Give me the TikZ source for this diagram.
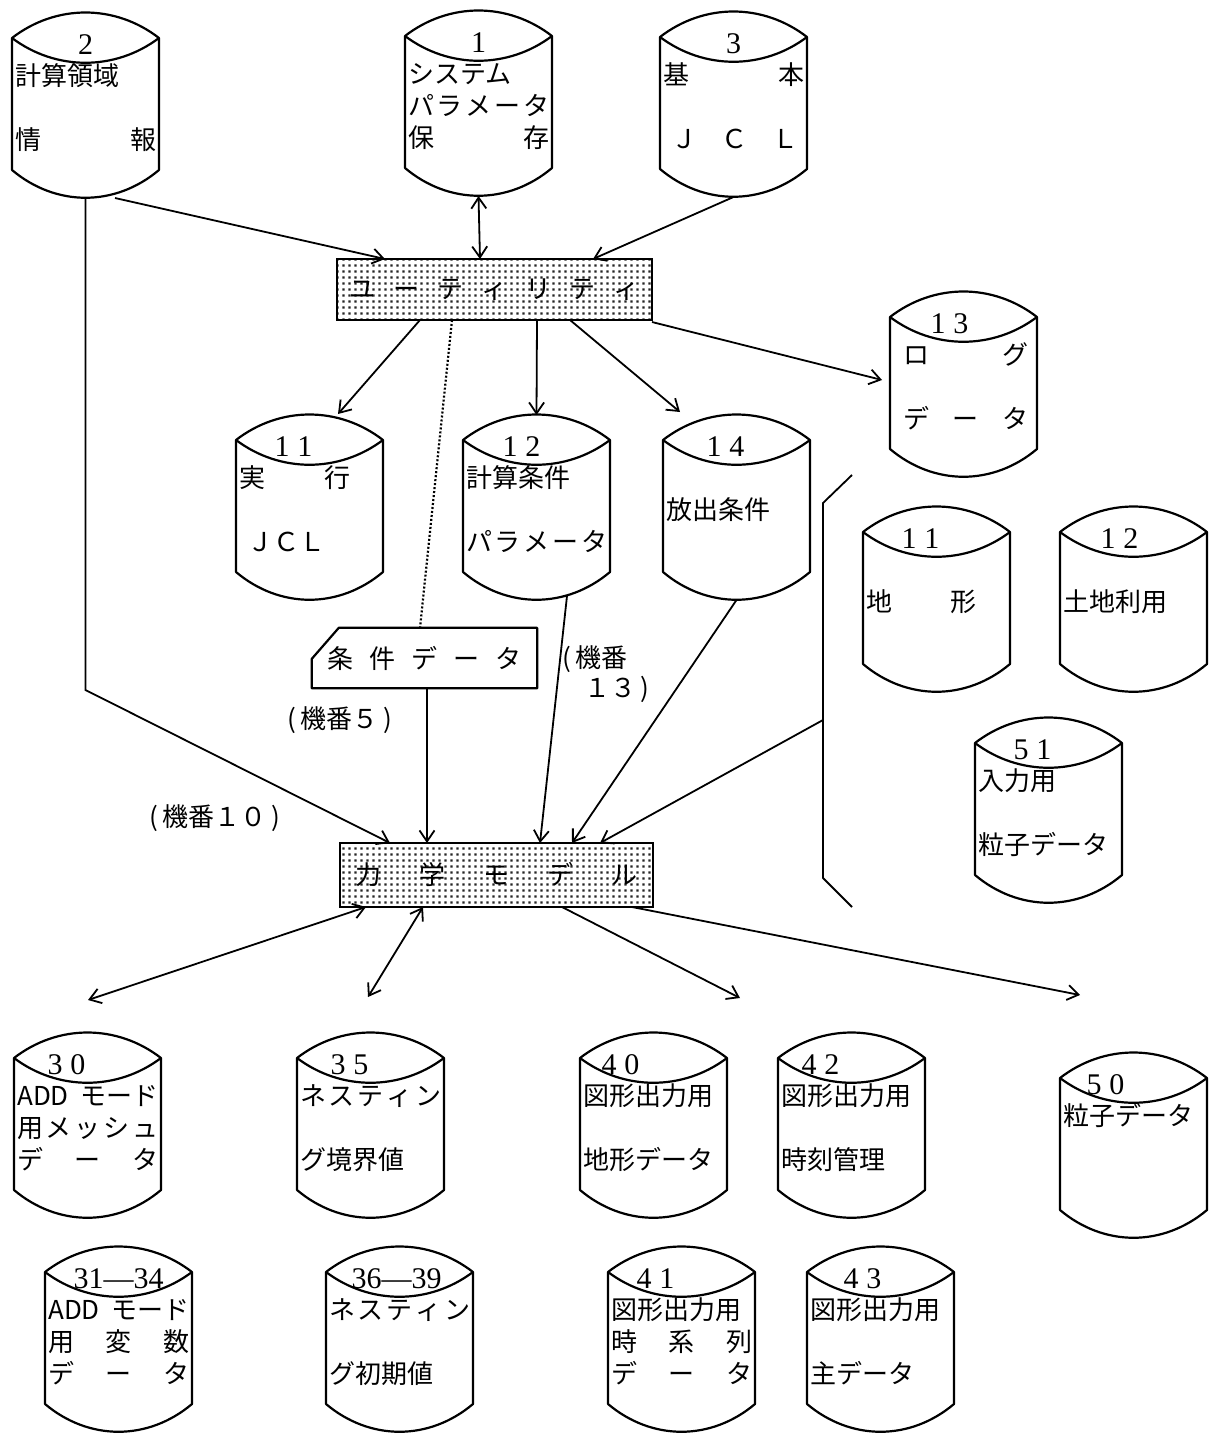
\documentclass[tikz,border=0pt]{standalone}
\usepackage{fontspec}
\setmainfont{Noto Sans CJK JP}
\newfontfamily\numfont{Liberation Serif}
\usetikzlibrary{arrows.meta,patterns.meta,calc}

\pgfdeclarepattern{
  name=halftone,
  type=uncolored,
  bottom left={\pgfpoint{0pt}{0pt}},
  top right={\pgfpoint{5.5pt}{5.5pt}},
  tile size={\pgfpoint{5.5pt}{5.5pt}},
  code={\pgfpathrectangle{\pgfpoint{1.5pt}{1.5pt}}{\pgfpoint{2.4pt}{2.4pt}}\pgfusepath{fill}}
}

\newcommand\spread[1]{\makebox[\linewidth]{#1}}
\newcommand\nn[2]{#1\hspace{8pt}#2}

% #1 name, #2 x0, #3 T, #4 number, #5 number dx, #6 body
\newcommand\drawcyl[6]{%
  \pgfmathsetmacro\cxa{#2}\pgfmathsetmacro\cxb{#2+147}%
  \pgfmathsetmacro\cxc{#2+44}\pgfmathsetmacro\cxd{#2+103}%
  \pgfmathsetmacro\cya{#3}\pgfmathsetmacro\cyt{#3-34}\pgfmathsetmacro\cylens{#3+33}%
  \pgfmathsetmacro\cys{#3+132}\pgfmathsetmacro\cyb{#3+169}%
  \draw[cylline,fill=white] (\cxa,\cya) .. controls (\cxc,\cyt) and (\cxd,\cyt) .. (\cxb,\cya) -- (\cxb,\cys) .. controls (\cxd,\cyb) and (\cxc,\cyb) .. (\cxa,\cys) -- cycle;
  \draw[cylline] (\cxa,\cya) .. controls (\cxc,\cylens) and (\cxd,\cylens) .. (\cxb,\cya);
  \node[numtxt] (#1-n) at (#2+73.5+#5,#3+7) {#4};
  \node[bodytxt] (#1) at (#2+3,#3+25) {\strut #6};
  \coordinate (#1-t) at (#2+73.5,#3-25);
  \coordinate (#1-b) at (#2+73.5,#3+160);
}

\tikzset{
  cylline/.style={line width=2.2pt, line join=round},
  numtxt/.style={inner sep=0pt, font=\numfont\fontsize{30}{30}\selectfont},
  bodytxt/.style={anchor=north west, inner sep=0pt, text width=141pt, align=left, font=\fontsize{26}{32}\selectfont},
  conn/.style={line width=1.8pt},
  arr/.style={conn, -{Straight Barb[length=11pt,width=15pt]}},
  darr/.style={conn, {Straight Barb[length=11pt,width=15pt]}-{Straight Barb[length=11pt,width=15pt]}},
  hbox/.style={draw, line width=2.2pt, pattern=halftone, pattern color=black!85, inner sep=0pt, font=\fontsize{26}{30}\selectfont},
  lbl/.style={inner sep=0pt, font=\fontsize{26}{30}\selectfont, align=left},
}

\begin{document}
\begin{tikzpicture}[x=1pt,y=-1pt]
\useasboundingbox (0,0) rectangle (1210,1433);
\fill[white] (0,0) rectangle (1210,1433);

% ---------- top cylinders ----------
\drawcyl{c2}{12}{38}{2}{0}{計算領域\\ \mbox{}\\ \spread{情\hfill 報}}
\drawcyl{c1}{405}{36}{1}{0}{システム\\ \spread{パ\hfill ラ\hfill メ\hfill ー\hfill タ}\\ \spread{保\hfill 存}}
\drawcyl{c3}{660}{37}{3}{0}{\spread{基\hfill 本}\\ \mbox{}\\ \spread{\hspace*{8pt}Ｊ\hfill Ｃ\hfill Ｌ\hspace*{6pt}}}

% ---------- boxes ----------
\node[hbox, minimum width=315pt, minimum height=61pt] (util) at (494.5,289.5)
  {ユ\hspace{18pt}ー\hspace{18pt}テ\hspace{18pt}ィ\hspace{18pt}リ\hspace{18pt}テ\hspace{18pt}ィ};
\node[hbox, minimum width=313pt, minimum height=64pt] (dyn) at (496.5,875)
  {力\hspace{38pt}学\hspace{38pt}モ\hspace{38pt}デ\hspace{38pt}ル};
\node[inner sep=0pt, minimum width=225pt, minimum height=60pt, font=\fontsize{26}{30}\selectfont] (cond) at (424.5,658)
  {条\hspace{16pt}件\hspace{16pt}デ\hspace{16pt}ー\hspace{16pt}タ};
\draw[line width=2.2pt, line join=round] (cond.south west) -- ($(cond.north west)+(0,31)$) -- ($(cond.north west)+(27,0)$) -- (cond.north east) -- (cond.south east) -- cycle;

% ---------- middle cylinders ----------
\drawcyl{c11}{236}{440}{\nn{1}{1}}{-16}{実\hspace{59pt}行\\ \mbox{}\\ \hspace*{8pt}ＪＣＬ}
\drawcyl{c12}{463}{440}{\nn{1}{2}}{-15}{計算条件\\ \mbox{}\\ \spread{パ\hfill ラ\hfill メ\hfill ー\hfill タ}}
\drawcyl{c14}{663}{440}{\nn{1}{4}}{-11}{\mbox{}\\ 放出条件}
\drawcyl{c13}{890}{317}{\nn{1}{3}}{-14}{\spread{\hspace*{10pt}ロ\hfill グ\hspace*{6pt}}\\ \mbox{}\\ \spread{\hspace*{10pt}デ\hfill ー\hfill タ\hspace*{6pt}}}
\drawcyl{r11}{863}{532}{\nn{1}{1}}{-16}{\mbox{}\\ 地\hspace{58pt}形}
\drawcyl{r12}{1060}{532}{\nn{1}{2}}{-14}{\mbox{}\\ 土地利用}
\drawcyl{c51}{975}{743}{\nn{5}{1}}{-16}{入力用\\ \mbox{}\\ 粒子データ}

% ---------- bottom cylinders ----------
\drawcyl{c30}{14}{1058}{\nn{3}{0}}{-21}{\spread{ADD\hfill モード}\\ \spread{用\hfill メ\hfill ッ\hfill シ\hfill ュ}\\ \spread{デ\hfill ー\hfill タ}}
\drawcyl{c35}{297}{1058}{\nn{3}{5}}{-21}{\spread{ネ\hfill ス\hfill テ\hfill ィ\hfill ン}\\ \mbox{}\\ グ境界値}
\drawcyl{c40}{580}{1058}{\nn{4}{0}}{-33}{図形出力用\\ \mbox{}\\ 地形データ}
\drawcyl{c42}{778}{1058}{\nn{4}{2}}{-31}{図形出力用\\ \mbox{}\\ 時刻管理}
\drawcyl{c50}{1060}{1078}{\nn{5}{0}}{-28}{粒子データ}
\drawcyl{c3134}{45}{1272}{31—34}{0}{\spread{ADD\hfill モード}\\ \spread{用\hfill 変\hfill 数}\\ \spread{デ\hfill ー\hfill タ}}
\drawcyl{c3639}{326}{1272}{36—39}{-3}{\spread{ネ\hfill ス\hfill テ\hfill ィ\hfill ン}\\ \mbox{}\\ グ初期値}
\drawcyl{c41}{608}{1272}{\nn{4}{1}}{-26}{図形出力用\\ \spread{時\hfill 系\hfill 列}\\ \spread{デ\hfill ー\hfill タ}}
\drawcyl{c43}{807}{1272}{\nn{4}{3}}{-18}{図形出力用\\ \mbox{}\\ 主データ}

% ---------- labels ----------
\node[lbl] (lb5) at (340,720) {(\,機番５\,)};
\node[lbl, anchor=north west] (lb13) at (562,645) {(\,機番\\ \hspace*{22pt}１３\,)};
\node[lbl] (lb10) at (215,818) {(\,機番１０\,)};

% ---------- connector end points ----------
\coordinate (c2-o) at (115,198);
\coordinate (bend) at (85.5,690);
\coordinate (u-i1) at (385,259);
\coordinate (u-i2) at (480,259);
\coordinate (u-i3) at (593,259);
\coordinate (u-o1) at (420,320);
\coordinate (u-o2) at (537,320);
\coordinate (u-o3) at (570,320);
\coordinate (u-o4) at (652,322);
\coordinate (u-o5) at (452,320);
\coordinate (c11-in) at (338,414);
\coordinate (c14-in) at (680,412);
\coordinate (c13-in) at (882,380);
\coordinate (cond-in) at (420,628);
\coordinate (cond-o) at (427,688);
\coordinate (c12-o) at (567,596);
\coordinate (br) at (823,720);
\coordinate (d-i1) at (390,843);
\coordinate (d-i2) at (427,843);
\coordinate (d-i3) at (540,843);
\coordinate (d-i4) at (572,843);
\coordinate (d-i5) at (600,843);
\coordinate (d-o1) at (366,907);
\coordinate (d-o2) at (423,907);
\coordinate (d-o3) at (562,907);
\coordinate (d-o4) at (632,907);
\coordinate (c30-in) at (88,1000);
\coordinate (c35-in) at (368,997);
\coordinate (c40-in) at (740,998);
\coordinate (c50-in) at (1080,995);

% ---------- connectors ----------
\draw[arr] (c2-o) -- (u-i1);
\draw[darr] (c1-b) -- (u-i2);
\draw[arr] (c3-b) -- (u-i3);
\draw[arr] (u-o1) -- (c11-in);
\draw[arr] (u-o2) -- (c12-t);
\draw[arr] (u-o3) -- (c14-in);
\draw[arr] (u-o4) -- (c13-in);
\draw[line width=2.2pt, dash pattern=on 2pt off 2pt] (u-o5) -- (cond-in);
\draw[arr] (c2-b) -- (bend) -- (d-i1);
\draw[arr] (cond-o) -- (d-i2);
\draw[arr] (c12-o) -- (d-i3);
\draw[arr] (c14-b) -- (d-i4);
\draw[conn, line join=round] (852,475) -- (823,503) -- (823,878) -- (852,907);
\draw[arr] (br) -- (d-i5);
\draw[darr] (d-o1) -- (c30-in);
\draw[darr] (d-o2) -- (c35-in);
\draw[arr] (d-o3) -- (c40-in);
\draw[arr] (d-o4) -- (c50-in);
\end{tikzpicture}
\end{document}
